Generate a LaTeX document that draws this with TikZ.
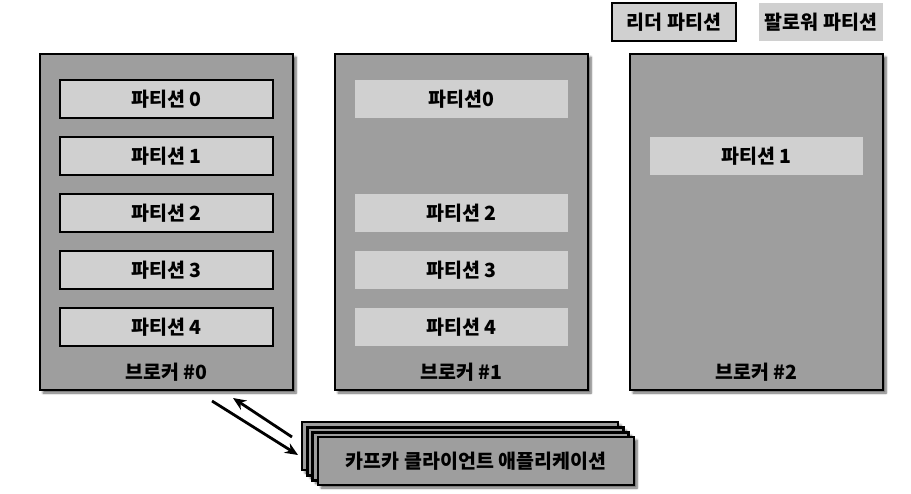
\documentclass[tikz,border=0pt]{standalone}
\usepackage{fontspec}
\setmainfont{Noto Sans CJK KR}
\usepackage{tikz}
\usetikzlibrary{shadows.blur,arrows.meta}
\definecolor{brokergray}{RGB}{158,158,158}
\definecolor{partgray}{RGB}{208,208,208}
\def\clientbox#1{+(#1,#1) rectangle +(316+#1,48+#1)}

\begin{document}
\begin{tikzpicture}[x=1pt,y=-1pt,
    every node/.style={font=\fontsize{19.5}{21}\selectfont\bfseries},
    broker/.style={draw,line width=2.8pt,fill=brokergray,minimum width=253pt,minimum height=336pt,
        blur shadow={shadow xshift=3pt,shadow yshift=-3pt,shadow blur steps=6,shadow opacity=60}},
    leader/.style={draw,line width=2.8pt,fill=partgray,minimum width=213pt,minimum height=38pt},
    follower/.style={fill=partgray,minimum width=213pt,minimum height=38pt},
    client/.style={draw,line width=2.8pt,fill=brokergray,
        blur shadow={shadow xshift=3pt,shadow yshift=-3pt,shadow blur steps=6,shadow opacity=60}},
    link/.style={line width=2.8pt,-{Stealth[length=13pt,width=11pt]}}]
    \useasboundingbox (0,0) rectangle (911,494);
    % legend
    \node[leader,minimum width=124pt] (lg) at (674,22) {리더 파티션};
    \node[follower,minimum width=124pt] (fl) at (821,22) {팔로워 파티션};
    % brokers
    \node[broker] (b0) at (166.5,222) {};
    \node[broker] (b1) at (461.5,222) {};
    \node[broker] (b2) at (756.5,222) {};
    \node (b0name) at (166.5,372) {브로커 \#0};
    \node (b1name) at (461.5,372) {브로커 \#1};
    \node (b2name) at (756.5,372) {브로커 \#2};
    % partitions
    \node[leader] (p00) at (166.5,99) {파티션 0};
    \node[leader] (p01) at (166.5,156) {파티션 1};
    \node[leader] (p02) at (166.5,213) {파티션 2};
    \node[leader] (p03) at (166.5,270) {파티션 3};
    \node[leader] (p04) at (166.5,327) {파티션 4};
    \node[follower] (p10) at (461.5,99) {파티션0};
    \node[follower] (p12) at (461.5,213) {파티션 2};
    \node[follower] (p13) at (461.5,270) {파티션 3};
    \node[follower] (p14) at (461.5,327) {파티션 4};
    \node[follower] (p21) at (756.5,156) {파티션 1};
    % client application
    \foreach \k in {0,5.3,10.6} {
        \path[client] (302,422) \clientbox{\k};
    }
    \node[client,minimum width=316pt,minimum height=48pt] (app) at (476,461) {카프카 클라이언트 애플리케이션};
    \coordinate (out0) at (212,401);
    \coordinate (in0) at (233,398);
    \coordinate (outapp) at (292,437);
    \coordinate (inapp) at (298,455);
    \draw[link] (out0) -- (inapp);
    \draw[link] (outapp) -- (in0);
\end{tikzpicture}
\end{document}
